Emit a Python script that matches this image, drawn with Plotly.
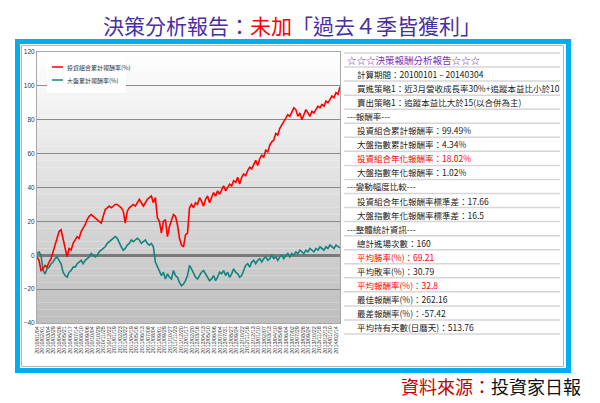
import numpy as np
import plotly.graph_objects as go

W, H = 600, 403

# ---------------- data ----------------
portfolio_cum = [
    -1, -3, -9, -8, -6, -7, -4, -2, 2, 6,
    9, 14, 15, 9, 5, -1, 4, 3, 7, 9,
    11, 10, 14, 16, 18, 21, 23, 24, 23, 22,
    21, 20, 19, 23, 27, 28, 29, 28, 29, 30,
    30, 29, 28, 26, 19, 26, 28, 29, 30, 29,
    31, 33, 31, 29, 31, 33, 34, 35, 31, 34,
    22, 20, 13, 20, 21, 11, 17, 20, 24, 23,
    18, 10, 6, 5, 12, 13, 28, 30, 28, 31,
    30, 34, 32, 29, 33, 35, 31, 34, 37, 35,
    38, 36, 39, 41, 38, 40, 42, 41, 44, 43,
    46, 42, 46, 48, 47, 50, 52, 51, 54, 56,
    53, 57, 59, 58, 62, 61, 65, 67, 68, 72,
    71, 75, 77, 79, 81, 83, 82, 85, 87, 86,
    82, 84, 80, 83, 86, 84, 82, 85, 84, 86,
    88, 87, 89, 88, 91, 90, 92, 94, 93, 96,
    95, 99.49,
]
market_cum = [
    1, 2, 0, -9, -11, -8, -7, -5, -4, -2,
    -1, -3, -5, -10, -12, -13, -10, -9, -7, -7,
    -5, -4, -3, -5, -3, -2, -1, 1, 0, -1,
    0, 2, 3, 4, 5, 7, 8, 9, 10, 11,
    10, 7, 5, 3, 4, 6, 7, 9, 8, 9,
    10, 9, 7, 8, 9, 7, 6, 7, 5, -4,
    -7, -9, -12, -10, -14, -11, -13, -14, -9, -12,
    -13, -16, -18, -17, -15, -12, -6, -8, -11, -13,
    -14, -12, -10, -9, -11, -13, -15, -14, -12, -15,
    -13, -10, -11, -9, -12, -10, -13, -11, -8, -10,
    -11, -13, -12, -9, -6, -5, -7, -4, -3, -5,
    -3, -2, -4, -2, -1, -3, -2, 0, -2, -1,
    -3, -1, 0, -2, 0, 1, -1, 1, 0, 2,
    1, 3, 2, 1, 3, 2, 4, 3, 2, 4,
    3, 5, 4, 3, 5, 4, 6, 5, 4, 6,
    5, 4.34,
]
date_labels = [
    "2010/01/04", "2010/02/01", "2010/03/04", "2010/03/29", "2010/04/26",
    "2010/05/21", "2010/06/17", "2010/07/14", "2010/08/10", "2010/09/06",
    "2010/10/04", "2010/10/29", "2010/11/25", "2010/12/22", "2011/01/19",
    "2011/02/23", "2011/03/22", "2011/04/19", "2011/05/16", "2011/06/13",
    "2011/07/08", "2011/08/04", "2011/09/01", "2011/09/29", "2011/10/27",
    "2011/11/23", "2011/12/20", "2012/01/17", "2012/02/20", "2012/03/16",
    "2012/04/13", "2012/05/10", "2012/06/06", "2012/07/04", "2012/07/31",
    "2012/08/27", "2012/09/24", "2012/10/22", "2012/11/16", "2012/12/13",
    "2013/01/10", "2013/02/07", "2013/03/13", "2013/04/10", "2013/05/08",
    "2013/06/04", "2013/07/02", "2013/07/29", "2013/08/26", "2013/09/24",
    "2013/10/22", "2013/11/18", "2013/12/13", "2014/01/10", "2014/02/14",
]
y_ticks = [120, 100, 80, 60, 40, 20, 0, -20, -40]
series_names = ["投資組合累計報酬率(%)", "大盤累計報酬率(%)"]
series_colors = ["#ff0000", "#15847f"]

panel_rows = [
    ("☆☆☆決策報酬分析報告☆☆☆", "title"),
    ("計算期間：20100101 – 20140304", "item"),
    ("買進策略1：近3月營收成長率30%+追蹤本益比小於10", "item"),
    ("賣出策略1：追蹤本益比大於15(以合併為主)", "item"),
    ("---報酬率---", "section"),
    ("投資組合累計報酬率：99.49%", "item"),
    ("大盤指數累計報酬率：4.34%", "item"),
    ("投資組合年化報酬率：18.02%", "red"),
    ("大盤指數年化報酬率：1.02%", "item"),
    ("---變動幅度比較---", "section"),
    ("投資組合年化報酬率標準差：17.66", "item"),
    ("大盤指數年化報酬率標準差：16.5", "item"),
    ("---整體統計資訊---", "section"),
    ("總計進場次數：160", "item"),
    ("平均勝率(%)：69.21", "red"),
    ("平均敗率(%)：30.79", "item"),
    ("平均報酬率(%)：32.8", "red"),
    ("最佳報酬率(%)：262.16", "item"),
    ("最差報酬率(%)：-57.42", "item"),
    ("平均持有天數(日曆天)：513.76", "item"),
]

# ---------------- helpers ----------------
CJK = "Noto Sans CJK TC"


def px(xp):
    return xp / W


def py(yp):
    return 1 - yp / H


idx = np.arange(len(portfolio_cum))
n = len(portfolio_cum)

fig = go.Figure()
fig.add_trace(go.Scatter(x=idx, y=market_cum, mode="lines",
                         line=dict(color=series_colors[1], width=1.6),
                         name=series_names[1], showlegend=False))
fig.add_trace(go.Scatter(x=idx, y=portfolio_cum, mode="lines",
                         line=dict(color=series_colors[0], width=1.6),
                         name=series_names[0], showlegend=False))

shapes = []
# gradient background of plot area
nb = 40
lo, hi = -40, 120
for i in range(nb):
    y0 = lo + (hi - lo) * i / nb
    y1 = lo + (hi - lo) * (i + 1) / nb
    f = (i + 0.5) / nb  # 0 bottom -> 1 top
    g = int(round(190 + 65 * f))
    shapes.append(dict(type="rect", xref="x domain", yref="y", x0=0, x1=1,
                       y0=y0, y1=y1, fillcolor=f"rgb({g},{g},{g})",
                       line=dict(width=0), layer="below"))

# outer blue frame
shapes.append(dict(type="rect", xref="paper", yref="paper",
                   x0=px(17.5), x1=px(568.5), y0=py(41.5), y1=py(370.5),
                   line=dict(color="#00aeef", width=5), fillcolor="rgba(0,0,0,0)"))
# inner thin gray frame
shapes.append(dict(type="rect", xref="paper", yref="paper",
                   x0=px(21.5), x1=px(563.5), y0=py(45.5), y1=py(366.5),
                   line=dict(color="#b4b4b4", width=1), fillcolor="rgba(0,0,0,0)"))

# legend box
shapes.append(dict(type="rect", xref="paper", yref="paper",
                   x0=px(47), x1=px(126), y0=py(55), y1=py(93),
                   fillcolor="white", line=dict(width=0)))
annotations = []
for k, (nm, col) in enumerate(zip(series_names, series_colors)):
    yy = 67 + 13 * k
    shapes.append(dict(type="line", xref="paper", yref="paper",
                       x0=px(52), x1=px(63), y0=py(yy), y1=py(yy),
                       line=dict(color=col, width=1.5)))
    annotations.append(dict(x=px(65), y=py(yy), xref="paper", yref="paper",
                            text=nm, showarrow=False, xanchor="left",
                            yanchor="middle", font=dict(family=CJK, size=6,
                                                        color="#333333")))

# right panel separators and text
row_h = 14.05
for k in range(len(panel_rows) + 1):
    yy = 53 + row_h * k
    shapes.append(dict(type="line", xref="paper", yref="paper",
                       x0=px(344), x1=px(560), y0=py(yy), y1=py(yy),
                       line=dict(color="#d6d6d6", width=1.5)))

for i, (txt, style) in enumerate(panel_rows):
    yy = 60 + row_h * i
    if style == "title":
        x0, col, size = 345, "#7a2fb0", 9.5
    elif style == "section":
        x0, col, size = 345, "#222222", 8.5
    elif style == "red":
        x0, col, size = 354.5, "#ff0000", 8.5
    else:
        x0, col, size = 354.5, "#222222", 8.5
    annotations.append(dict(x=px(x0), y=py(yy), xref="paper", yref="paper",
                            text=txt, showarrow=False, xanchor="left",
                            yanchor="middle",
                            font=dict(family=CJK, size=size, color=col)))

# title
annotations.append(dict(
    x=px(292), y=py(25), xref="paper", yref="paper", showarrow=False,
    xanchor="center", yanchor="middle",
    text=('<span style="color:#4b2fa0">決策分析報告：</span>'
          '<span style="color:#ff0000">未加</span>'
          '<span style="color:#4b2fa0">「過去４季皆獲利」</span>'),
    font=dict(family=CJK, size=21)))
# source
annotations.append(dict(
    x=px(583), y=py(386), xref="paper", yref="paper", showarrow=False,
    xanchor="right", yanchor="middle",
    text=('<span style="color:#c00000">資料來源：</span>'
          '<span style="color:#111111">投資家日報</span>'),
    font=dict(family=CJK, size=18)))

tickvals = np.linspace(0, (n - 1) * 0.987, len(date_labels))

fig.update_layout(
    width=W, height=H, margin=dict(l=0, r=0, t=0, b=0),
    paper_bgcolor="white", plot_bgcolor="white",
    showlegend=False, shapes=shapes, annotations=annotations,
    xaxis=dict(domain=[px(37), px(340)], range=[0, n - 1],
               showgrid=False, zeroline=False, showline=True,
               linecolor="#a8a8a8", linewidth=1, mirror=True,
               tickmode="array", tickvals=tickvals, ticktext=date_labels,
               tickangle=-90, ticks="", automargin=False,
               tickfont=dict(family="Liberation Sans", size=5.5,
                             color="#333333")),
    yaxis=dict(domain=[py(323), py(52)], range=[-40, 120],
               tickmode="array", tickvals=y_ticks,
               showgrid=True, gridcolor="#8a8a8a", gridwidth=1,
               zeroline=True, zerolinecolor="#7a7a7a", zerolinewidth=3,
               showline=True, linecolor="#a8a8a8", linewidth=1, mirror=True,
               ticks="", automargin=False,
               tickfont=dict(family="Liberation Sans", size=6.5,
                             color="#333333")),
)

fig.write_html("out.html")
